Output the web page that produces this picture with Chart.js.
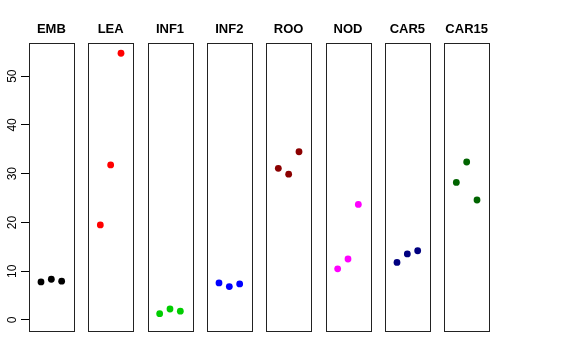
<!DOCTYPE html>
<html>
<head>
<meta charset="utf-8">
<script src="https://cdn.jsdelivr.net/npm/chart.js@4/dist/chart.umd.min.js"></script>
<style>
  html, body { margin: 0; padding: 0; background: #fff; }
  #wrap { width: 576px; height: 360px; }
</style>
</head>
<body>
<div id="wrap"><canvas id="c" width="576" height="360"></canvas></div>
<script>
// panel names and the three measured values in each panel
const groups = ["EMB", "LEA", "INF1", "INF2", "ROO", "NOD", "CAR5", "CAR15"];
const emb = [7.8, 8.35, 7.95];
const lea = [19.5, 31.8, 54.7];
const inf1 = [1.3, 2.25, 1.8];
const inf2 = [7.6, 6.85, 7.4];
const roo = [31.1, 29.9, 34.5];
const nod = [10.5, 12.5, 23.7];
const car5 = [11.8, 13.55, 14.2];
const car15 = [28.2, 32.4, 24.6];
const yTicks = [0, 10, 20, 30, 40, 50];

const values = [emb, lea, inf1, inf2, roo, nod, car5, car15];
const colors = ["#000000", "#ff0000", "#00cd00", "#0000ff", "#8b0000", "#ff00ff", "#000080", "#006400"];

// each panel spans [lo, hi] around x = 1..3, panels repeat every `pitch` units
const pitch = 5.74;
const lo = -0.16, hi = 4.16;

const datasets = values.map((vals, i) => ({
    label: groups[i],
    data: vals.map((v, j) => ({ x: i * pitch + j + 1, y: v })),
    backgroundColor: colors[i],
    borderColor: colors[i],
    pointRadius: 3.4,
    pointHoverRadius: 3.4,
    borderWidth: 0,
}));

const panels = {
    id: "panels",
    beforeDatasetsDraw(chart) {
        const { ctx, chartArea, scales } = chart;
        ctx.save();
        ctx.strokeStyle = "#222";
        ctx.lineWidth = 1;
        ctx.fillStyle = "#000";
        ctx.font = "bold 13px 'Liberation Sans', Arial, sans-serif";
        ctx.textAlign = "center";
        ctx.textBaseline = "alphabetic";
        groups.forEach((g, i) => {
            const x0 = scales.x.getPixelForValue(i * pitch + lo);
            const x1 = scales.x.getPixelForValue(i * pitch + hi);
            ctx.strokeRect(Math.round(x0) + 0.5, Math.round(chartArea.top) + 0.5,
                Math.round(x1 - x0), Math.round(chartArea.bottom - chartArea.top));
            ctx.fillText(g, (x0 + x1) / 2, 33);
        });
        ctx.restore();
    },
};

new Chart(document.getElementById("c"), {
    type: "scatter",
    data: { datasets: datasets },
    options: {
        responsive: false,
        animation: false,
        layout: { padding: { left: 0, right: 87, top: 43, bottom: 29 } },
        plugins: {
            legend: { display: false },
            tooltip: { enabled: false },
        },
        scales: {
            x: {
                type: "linear",
                min: lo,
                max: 7 * pitch + hi,
                display: false,
            },
            y: {
                type: "linear",
                min: -2.26,
                max: 56.8,
                afterBuildTicks: (scale) => {
                    scale.ticks = yTicks.map((v) => ({ value: v }));
                },
                afterFit: (scale) => {
                    scale.width = 29;
                },
                grid: {
                    drawOnChartArea: false,
                    drawTicks: true,
                    tickLength: 8,
                    color: "#000",
                },
                border: { display: true, color: "#222" },
                ticks: {
                    minRotation: 90,
                    maxRotation: 90,
                    crossAlign: "center",
                    padding: 2,
                    color: "#000",
                    font: { family: "'Liberation Sans', Arial, sans-serif", size: 12 },
                },
            },
        },
    },
    plugins: [panels],
});
</script>
</body>
</html>
